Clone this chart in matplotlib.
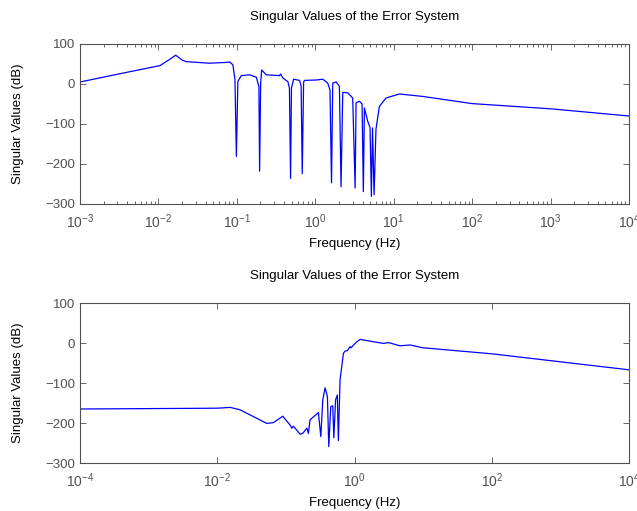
import matplotlib
matplotlib.use("Agg")
import matplotlib.pyplot as plt
from matplotlib.ticker import LogLocator, FixedLocator, LogFormatterSciNotation, NullLocator

plt.rcParams['font.family'] = ['Liberation Sans', 'DejaVu Sans']
plt.rcParams['mathtext.fontset'] = 'custom'
plt.rcParams['mathtext.rm'] = 'Liberation Sans'
plt.rcParams['mathtext.it'] = 'Liberation Sans:italic'

# top plot: singular values of error system (Hz, dB)
top_freq = [0.001, 0.0039, 0.0105, 0.014, 0.0166, 0.02, 0.0224, 0.0447, 0.0736, 0.081,
            0.089, 0.0946, 0.0986, 0.103, 0.114, 0.146, 0.177, 0.191, 0.195, 0.201,
            0.207, 0.237, 0.351, 0.361, 0.386, 0.447, 0.468, 0.484, 0.497, 0.529,
            0.63, 0.66, 0.682, 0.71, 0.73, 1.03, 1.245, 1.44, 1.54, 1.61,
            1.67, 1.85, 2.03, 2.13, 2.24, 2.59, 3.0, 3.22, 3.31, 3.65,
            3.95, 4.1, 4.23, 4.66, 4.99, 5.19, 5.37, 5.62, 5.94, 6.56,
            7.98, 11.8, 23.3, 100, 1000, 10000]
top_db = [5, 29, 46, 62, 72, 60, 56, 52, 54, 55,
          48, 11, -181, 6.5, 21, 23, 17, -6, -218, 0,
          35, 23, 21, 25, 15, 6, -10, -236, -10, 12,
          9, -5, -224, 5, 9, 10, 12, 2.5, -15, -247,
          2.5, 5, -6, -257, -21, -22, -35, -260, -47, -43,
          -50, -269, -60, -93, -109, -281, -110, -277, -113, -56,
          -35, -25, -31, -49, -62, -80]

# bottom plot
bot_freq = [0.0001, 0.01, 0.0155, 0.0215, 0.0336, 0.0527, 0.066, 0.090, 0.115, 0.122,
            0.129, 0.161, 0.178, 0.202, 0.213, 0.225, 0.298, 0.323, 0.345, 0.373,
            0.403, 0.422, 0.451, 0.482, 0.50, 0.53, 0.562, 0.582, 0.616, 0.689,
            0.73, 0.79, 0.863, 0.89, 1.08, 1.21, 1.51, 2.63, 3.12, 4.62,
            6.46, 10, 100, 10000]
bot_db = [-165, -163, -161, -167, -184, -201, -199, -183, -205, -213,
          -208, -228, -225, -213, -226, -192, -174, -234, -142, -112,
          -134, -259, -159, -157, -237, -142, -130, -244, -92, -26,
          -20, -19, -9, -12, 3, 9, 6, -1, 1, -7,
          -5, -12, -27, -67]

title = "Singular Values of the Error System"
xlab = "Frequency (Hz)"
ylab = "Singular Values (dB)"
yticks = [-300, -200, -100, 0, 100]

gray = '#505050'
fs = 9.5

fig = plt.figure(figsize=(6.37, 5.11), dpi=100)
ax1 = fig.add_axes([80/637, 1-204/511, 549/637, 160/511])
ax2 = fig.add_axes([80/637, 1-463/511, 549/637, 160/511])


def style(ax, xmin, xmax, minor):
    ax.set_xscale('log')
    ax.set_xlim(xmin, xmax)
    ax.set_ylim(-300, 100)
    ax.yaxis.set_major_locator(FixedLocator(yticks))
    if minor:
        ax.xaxis.set_major_locator(LogLocator(base=10, numticks=20))
        ax.xaxis.set_minor_locator(LogLocator(base=10, subs=range(2, 10), numticks=20))
    else:
        ax.xaxis.set_major_locator(FixedLocator([1e-4, 1e-2, 1e0, 1e2, 1e4]))
        ax.xaxis.set_minor_locator(NullLocator())
    ax.xaxis.set_major_formatter(LogFormatterSciNotation())
    ax.tick_params(which='both', direction='in', top=True, right=True,
                   colors=gray, labelsize=fs, width=0.6)
    ax.tick_params(which='major', length=4)
    ax.tick_params(which='minor', length=2)
    ax.tick_params(axis='x', labelsize=fs + 0.5, pad=6)
    for s in ax.spines.values():
        s.set_color(gray)
        s.set_linewidth(0.8)
    ax.set_title(title, fontsize=fs, pad=17)
    ax.set_xlabel(xlab, fontsize=fs, labelpad=5)
    ax.set_ylabel(ylab, fontsize=fs, labelpad=15)


ax1.plot(top_freq, top_db, color='#0000ff', lw=0.9)
style(ax1, 1e-3, 1e4, True)

ax2.plot(bot_freq, bot_db, color='#0000ff', lw=0.9)
style(ax2, 1e-4, 1e4, False)

fig.savefig("out.png", dpi=100)
